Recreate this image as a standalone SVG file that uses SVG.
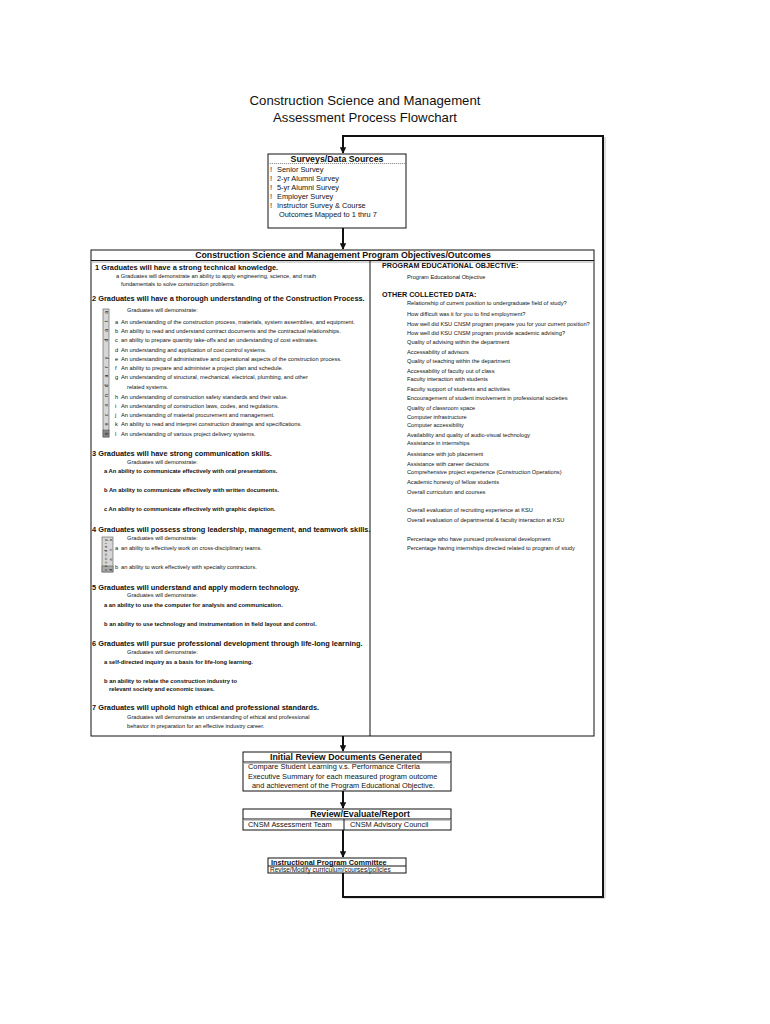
<svg xmlns="http://www.w3.org/2000/svg" width="770" height="1024" viewBox="0 0 770 1024">
<style>
text{font-family:"Liberation Sans",Arial,sans-serif;fill:#111}
.ttl{font-size:13.2px}
.h{font-size:7.4px;font-weight:bold}
.hb{font-size:8.8px;font-weight:bold}
.s{font-size:5.7px}
.sb{font-size:5.8px;font-weight:bold}
.m{font-size:7.4px}
.rh{font-size:7.2px;font-weight:bold}
.box{fill:#fff;stroke:#111;stroke-width:1}
.sep{stroke:#111;stroke-width:1}
.sh{stroke:#aaa;stroke-width:1}
.con{fill:none;stroke:#111;stroke-width:2}
.conS{fill:none;stroke:#bbb;stroke-width:1}
.bar{fill:#d6d6d6;stroke:#555;stroke-width:0.6}
.bt{font-size:5px}
</style>
<defs>
<marker id="ah" viewBox="0 0 10 10" refX="9" refY="5" markerWidth="3.2" markerHeight="3.2" orient="auto" markerUnits="strokeWidth">
<path d="M0,0 L10,5 L0,10 z" fill="#111"/>
</marker>
<clipPath id="tc"><rect x="0" y="0" width="481" height="140"/></clipPath>
</defs>
<rect width="770" height="1024" fill="#fff"/>

<g id="title">
<text class="ttl" x="365" y="105" text-anchor="middle" clip-path="url(#tc)">Construction Science and Management</text>
<text class="ttl" x="365" y="122" text-anchor="middle">Assessment Process Flowchart</text>
</g>

<g id="connectors">
<path class="conS" d="M344,898 L605,898 L605,137"/>
<path class="con" d="M343,873 L343,897 L603,897 L603,136 L343,136 L343,153" marker-end="url(#ah)"/>
<line class="con" x1="343" y1="228" x2="343" y2="249" marker-end="url(#ah)"/>
<line class="con" x1="343" y1="736" x2="343" y2="751" marker-end="url(#ah)"/>
<line class="con" x1="343" y1="791" x2="343" y2="808" marker-end="url(#ah)"/>
<line class="con" x1="343" y1="830" x2="343" y2="857" marker-end="url(#ah)"/>
</g>

<g id="surveys">
<rect class="box" x="268" y="154" width="138" height="74"/>
<line x1="268" y1="163.5" x2="406" y2="163.5" stroke="#777" stroke-width="0.8" stroke-dasharray="1.2,0.8"/>
<text class="hb" x="337" y="161.5" text-anchor="middle">Surveys/Data Sources</text>
<text class="m" x="270" y="171.5">!</text><text class="m" x="277" y="171.5">Senior Survey</text>
<text class="m" x="270" y="180.5">!</text><text class="m" x="277" y="180.5">2-yr Alumni Survey</text>
<text class="m" x="270" y="189.5">!</text><text class="m" x="277" y="189.5">5-yr Alumni Survey</text>
<text class="m" x="270" y="198.5">!</text><text class="m" x="277" y="198.5">Employer Survey</text>
<text class="m" x="270" y="207.5">!</text><text class="m" x="277" y="207.5">Instructor Survey &amp; Course</text>
<text class="m" x="279" y="216.5">Outcomes Mapped to 1 thru 7</text>
</g>

<g id="objectives">
<rect class="box" x="91" y="250" width="503" height="486"/>
<line class="sep" x1="91" y1="260.5" x2="594" y2="260.5"/>
<line class="sh" x1="91" y1="262" x2="594" y2="262"/>
<line class="sep" x1="370" y1="261" x2="370" y2="736"/>
<text class="hb" x="343" y="258" text-anchor="middle">Construction Science and Management Program Objectives/Outcomes</text>

<text class="h" x="95" y="269.5">1  Graduates will have a strong technical knowledge.</text>
<text class="s" x="116" y="277.5">a Graduates will demonstrate an ability to apply engineering, science, and math</text>
<text class="s" x="121" y="286">fundamentals to solve construction problems.</text>

<text class="h" x="92" y="300.5">2  Graduates will have a thorough understanding of the Construction Process.</text>
<rect class="bar" x="103" y="309" width="6" height="128"/>
<rect x="103" y="430" width="6" height="7" fill="#888" stroke="#444" stroke-width="0.5"/>
<text class="bt" transform="translate(107.8,435) rotate(-90)" textLength="124" lengthAdjust="spacing">secondary data</text>
<text class="s" x="127" y="312">Graduates will demonstrate:</text>
<text class="s" x="115" y="324">a</text><text class="s" x="121" y="324">An understanding of the construction process, materials, system assemblies, and equipment.</text>
<text class="s" x="115" y="333">b</text><text class="s" x="121" y="333">An ability to read and understand contract documents and the contractual relationships.</text>
<text class="s" x="115" y="342">c</text><text class="s" x="121" y="342">an ability to prepare quantity take-offs and an understanding of cost estimates.</text>
<text class="s" x="115" y="352">d</text><text class="s" x="121" y="352">An understanding and application of cost control systems.</text>
<text class="s" x="115" y="361">e</text><text class="s" x="121" y="361">An understanding of administrative and operational aspects of the construction process.</text>
<text class="s" x="115" y="370">f</text><text class="s" x="121" y="370">An ability to prepare and administer a project plan and schedule.</text>
<text class="s" x="115" y="379">g</text><text class="s" x="121" y="379">An understanding of structural, mechanical, electrical, plumbing, and other</text>
<text class="s" x="127" y="389">related systems.</text>
<text class="s" x="115" y="399">h</text><text class="s" x="121" y="399">An understanding of construction safety standards and their value.</text>
<text class="s" x="115" y="408">i</text><text class="s" x="121" y="408">An understanding of construction laws, codes, and regulations.</text>
<text class="s" x="115" y="417">j</text><text class="s" x="121" y="417">An understanding of material procurement and management.</text>
<text class="s" x="115" y="426">k</text><text class="s" x="121" y="426">An ability to read and interpret construction drawings and specifications.</text>
<text class="s" x="115" y="436">l</text><text class="s" x="121" y="436">An understanding of various project delivery systems.</text>

<text class="h" x="92" y="455.5">3  Graduates will have strong communication skills.</text>
<text class="s" x="127" y="464">Graduates will demonstrate:</text>
<text class="sb" x="104" y="473">a An ability to communicate effectively with oral presentations.</text>
<text class="sb" x="104" y="492">b An ability to communicate effectively with written documents.</text>
<text class="sb" x="104" y="511">c An ability to communicate effectively with graphic depiction.</text>

<text class="h" x="92" y="531.5">4  Graduates will possess strong leadership, management, and teamwork skills.</text>
<rect class="bar" x="102" y="537" width="11" height="35" fill="#e2e2e2"/>
<rect x="102" y="566" width="11" height="6" fill="#aaa" stroke="#444" stroke-width="0.5"/>
<text class="bt" style="font-size:4px" transform="translate(106.5,571) rotate(-90)" textLength="32" lengthAdjust="spacing">secondary</text>
<text class="bt" style="font-size:4px" transform="translate(111.5,571) rotate(-90)" textLength="32" lengthAdjust="spacing">data</text>
<text class="s" x="127" y="540">Graduates will demonstrate:</text>
<text class="s" x="115" y="550">a</text><text class="s" x="121" y="550">an ability to effectively work on cross-disciplinary teams.</text>
<text class="s" x="115" y="569">b</text><text class="s" x="121" y="569">an ability to work effectively with specialty contractors.</text>

<text class="h" x="92" y="589.5">5  Graduates will understand and apply modern technology.</text>
<text class="s" x="127" y="597">Graduates will demonstrate:</text>
<text class="sb" x="104" y="606.5">a an ability to use the computer for analysis and communication.</text>
<text class="sb" x="104" y="625.5">b an ability to use technology and instrumentation in field layout and control.</text>

<text class="h" x="92" y="646">6  Graduates will pursue professional development through life-long learning.</text>
<text class="s" x="127" y="654">Graduates will demonstrate:</text>
<text class="sb" x="104" y="663.5">a self-directed inquiry as a basis for life-long learning.</text>
<text class="sb" x="104" y="682.5">b an ability to relate the construction industry to</text>
<text class="sb" x="109" y="691">relevant society and economic issues.</text>

<text class="h" x="92" y="710">7  Graduates will uphold high ethical and professional standards.</text>
<text class="s" x="127" y="719">Graduates will demonstrate an understanding of ethical and professional</text>
<text class="s" x="127" y="728">behavior in preparation for an effective industry career.</text>

<text class="rh" x="382" y="268">PROGRAM EDUCATIONAL OBJECTIVE:</text>
<text class="s" x="407" y="279">Program Educational Objective</text>
<text class="rh" x="382" y="296.5">OTHER COLLECTED DATA:</text>
<text class="s" x="407" y="304.5">Relationship of current position to undergraduate field of study?</text>
<text class="s" x="407" y="316">How difficult was it for you to find employment?</text>
<text class="s" x="407" y="325.5">How well did KSU CNSM program prepare you for your current position?</text>
<text class="s" x="407" y="335">How well did KSU CNSM program provide academic advising?</text>
<text class="s" x="407" y="344">Quality of advising within the department</text>
<text class="s" x="407" y="354">Accessability of advisors</text>
<text class="s" x="407" y="363">Quality of teaching within the department</text>
<text class="s" x="407" y="372.5">Accessability of faculty out of class</text>
<text class="s" x="407" y="381">Faculty interaction with students</text>
<text class="s" x="407" y="390.5">Faculty support of students and activities</text>
<text class="s" x="407" y="400">Encouragement of student involvement in professional societies</text>
<text class="s" x="407" y="409.5">Quality of classroom space</text>
<text class="s" x="407" y="418.5">Computer infrastructure</text>
<text class="s" x="407" y="427">Computer accessibility</text>
<text class="s" x="407" y="437">Availability and quality of audio-visual technology</text>
<text class="s" x="407" y="445">Assistance in internships</text>
<text class="s" x="407" y="456">Assistance with job placement</text>
<text class="s" x="407" y="465.5">Assistance with career decisions</text>
<text class="s" x="407" y="474">Comprehensive project experience (Construction Operations)</text>
<text class="s" x="407" y="484">Academic honesty of fellow students</text>
<text class="s" x="407" y="493.5">Overall curriculum and courses</text>
<text class="s" x="407" y="511.5">Overall evaluation of recruiting experience at KSU</text>
<text class="s" x="407" y="521.5">Overall evaluation of departmental &amp; faculty interaction at KSU</text>
<text class="s" x="407" y="541">Percentage who have pursued professional development</text>
<text class="s" x="407" y="550">Percentage having internships directed related to program of study</text>
</g>

<g id="initial-review">
<rect class="box" x="243" y="752" width="208" height="39"/>
<line class="sep" x1="243" y1="762" x2="451" y2="762"/>
<line class="sh" x1="243" y1="763.2" x2="451" y2="763.2"/>
<text class="hb" x="346" y="760.2" text-anchor="middle">Initial Review Documents Generated</text>
<text class="m" x="248" y="769.2">Compare Student Learning v.s. Performance Criteria</text>
<text class="m" x="248" y="778.7">Executive Summary for each measured program outcome</text>
<text class="m" x="252" y="788.2">and achievement of the Program Educational Objective.</text>
</g>

<g id="review">
<rect class="box" x="243" y="809" width="208" height="21"/>
<line class="sep" x1="243" y1="819" x2="451" y2="819"/>
<line class="sh" x1="243" y1="820.2" x2="451" y2="820.2"/>
<line class="sep" x1="344" y1="819" x2="344" y2="830"/>
<text class="hb" x="360" y="817" text-anchor="middle">Review/Evaluate/Report</text>
<text class="m" x="248" y="827.2">CNSM Assessment Team</text>
<text class="m" x="350" y="827.2">CNSM Advisory Council</text>
</g>

<g id="committee">
<rect class="box" x="268" y="858" width="138" height="15"/>
<line class="sep" x1="268" y1="866" x2="406" y2="866"/>
<text class="h" style="font-size:7.3px" x="271" y="864.8">Instructional Program Committee</text>
<text class="m" style="font-size:6.5px" x="270" y="872.2">Revise/Modify curriculum/courses/policies</text>
</g>
</svg>
